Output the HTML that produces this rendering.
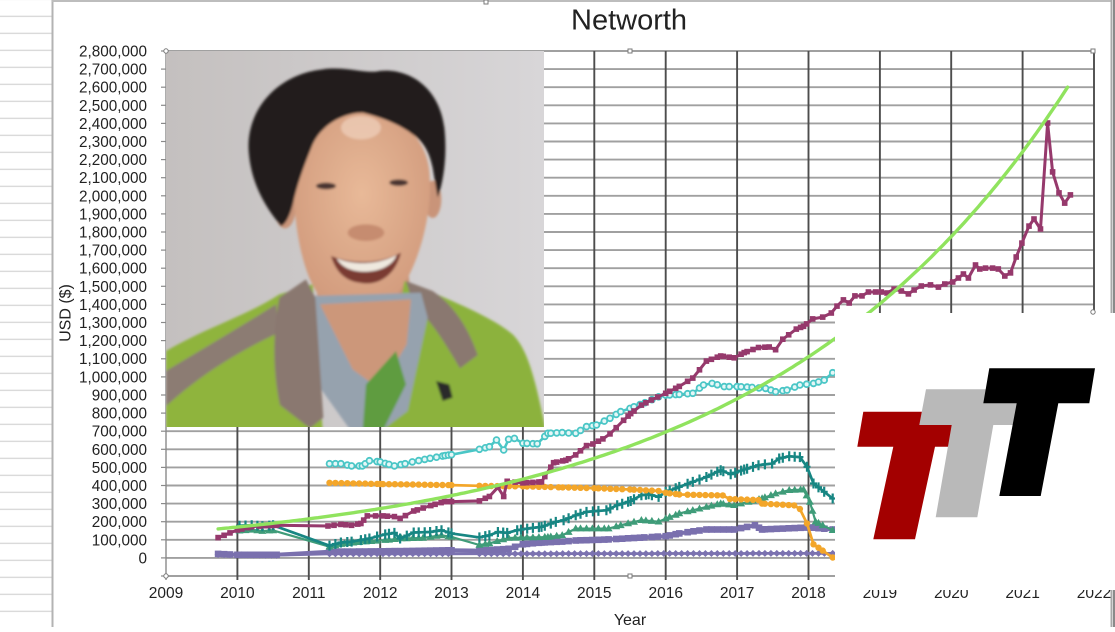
<!DOCTYPE html>
<html><head><meta charset="utf-8"><style>
html,body{margin:0;padding:0;background:#fff;}
body{width:1115px;height:627px;overflow:hidden;}
text{font-family:"Liberation Sans",Arial,sans-serif;fill:#222;}
</style></head><body>
<svg id="svg" xmlns="http://www.w3.org/2000/svg" width="1115" height="627" viewBox="0 0 1115 627">
<defs>
<clipPath id="pc"><rect x="166" y="51" width="378" height="376"/></clipPath>
<linearGradient id="bgp" x1="0" x2="1" y1="0" y2="0"><stop offset="0" stop-color="#c4c0bf"/><stop offset="1" stop-color="#d8d6d8"/></linearGradient>
<radialGradient id="skin" cx="0.5" cy="0.4" r="0.6"><stop offset="0" stop-color="#e8b998"/><stop offset="1" stop-color="#d19a7c"/></radialGradient>
<filter id="soft" x="-5%" y="-5%" width="110%" height="110%"><feGaussianBlur stdDeviation="4"/></filter>
<pattern id="rows" x="0" y="15.7" width="52" height="17" patternUnits="userSpaceOnUse"><rect x="0" y="0" width="52" height="1.2" fill="#d2d2d2"/></pattern>
</defs>
<rect width="1115" height="627" fill="#fff"/>
<rect x="0" y="0" width="52" height="627" fill="url(#rows)"/>
<line x1="52.5" y1="0" x2="52.5" y2="627" stroke="#b3b3b3" stroke-width="2"/>
<line x1="52" y1="1" x2="1112" y2="1" stroke="#bdbdbd" stroke-width="2"/>
<line x1="1111.5" y1="0" x2="1111.5" y2="627" stroke="#a8a8a8" stroke-width="2"/>
<rect x="1113" y="0" width="2" height="627" fill="#8a8a8a"/>

<g id="grid"></g>
<g id="series"></g>

<g font-size="15.5" text-anchor="middle">
<text x="166" y="598">2009</text>
<text x="237.4" y="598">2010</text>
<text x="308.8" y="598">2011</text>
<text x="380.2" y="598">2012</text>
<text x="451.5" y="598">2013</text>
<text x="522.9" y="598">2014</text>
<text x="594.3" y="598">2015</text>
<text x="665.7" y="598">2016</text>
<text x="737.1" y="598">2017</text>
<text x="808.5" y="598">2018</text>
<text x="879.9" y="598">2019</text>
<text x="951.2" y="598">2020</text>
<text x="1022.6" y="598">2021</text>
<text x="1094" y="598">2022</text>
</g>

<!-- photo -->
<g clip-path="url(#pc)">
<rect x="166" y="51" width="378" height="376" fill="url(#bgp)"/>
<g transform="translate(166,51) scale(0.33333)" filter="url(#soft)">
<ellipse cx="357" cy="470" rx="32" ry="62" fill="#c99479"/>
<ellipse cx="800" cy="445" rx="26" ry="56" fill="#c99479"/>
<path d="M450,640 L725,630 L745,890 L460,905 Z" fill="#c89277"/>
<path d="M385,330 C390,230 470,185 590,180 C700,185 780,260 790,360 C800,470 770,600 720,690 C680,760 630,800 580,800 C530,800 480,770 450,720 C400,640 375,470 385,330 Z" fill="url(#skin)"/>
<ellipse cx="585" cy="230" rx="60" ry="35" fill="#f0d2bd" opacity="0.7"/>
<ellipse cx="600" cy="545" rx="55" ry="25" fill="#c68c70"/>
<ellipse cx="480" cy="405" rx="30" ry="10" fill="#4a3530"/>
<ellipse cx="698" cy="395" rx="28" ry="10" fill="#4a3530"/>
<path d="M495,615 C560,640 640,640 705,605 C685,685 625,705 580,695 C540,690 510,665 495,615 Z" fill="#7a3a32"/>
<path d="M512,622 C570,645 640,640 692,612 C680,645 640,662 592,662 C550,660 525,646 512,622 Z" fill="#efe9df"/>
<path d="M248,300 C240,180 330,70 470,55 C540,45 600,70 640,60 C730,50 820,110 835,230 C845,320 830,400 815,440 L800,350 C790,300 770,270 740,250 C700,220 650,200 590,185 C540,185 470,215 440,280 C420,330 400,380 385,440 C375,490 360,520 345,525 C300,470 255,400 248,300 Z" fill="#241d1a"/>
<path d="M0,900 C120,830 250,790 340,730 L440,700 L470,1140 L0,1140 Z" fill="#8fb43e"/>
<path d="M715,690 L790,720 C880,760 980,800 1040,850 C1090,900 1110,1000 1140,1140 L640,1140 Z" fill="#8cb23c"/>
<path d="M0,960 C100,900 220,830 330,760 L338,845 C230,895 110,965 0,1065 Z" fill="#8c7b73"/>
<path d="M720,690 L800,720 C860,760 905,825 935,912 L882,952 C840,880 792,802 742,762 Z" fill="#8a7870"/>
<path d="M430,735 L765,725 L785,800 L725,1080 L645,1140 L555,1140 L455,1000 Z" fill="#96a2ae"/>
<path d="M462,760 L735,745 L722,880 L642,1015 L560,955 Z" fill="#cc977a"/>
<path d="M600,1000 L690,900 L720,1000 L650,1140 L590,1140 Z" fill="#5f9c40"/>
<path d="M340,740 L420,685 L448,740 L472,1100 L432,1132 L342,1062 C320,960 320,850 340,740 Z" fill="#8a7870"/>
<path d="M810,990 L850,1000 L860,1040 L830,1050 Z" fill="#2a2a2a"/>
</g>
</g>

<!-- logo box -->
<rect x="835" y="313" width="280" height="277" fill="#fff"/>
<polygon points="863.3,411.7 965,411.7 959,446.7 935,446.7 915,539.3 873.3,539.3 893.3,446.7 857.3,446.7" fill="#a30000"/>
<polygon points="926,389.3 1035,389.3 1029,425 993.3,425 977.3,517.3 935.7,517.3 951.7,425 919.3,425" fill="#b9b9b9"/>
<polygon points="989.3,368.3 1095,368.3 1089.3,403.3 1058.3,403.3 1040.7,496 999.3,496 1016.7,403.3 983.3,403.3" fill="#000"/>

<!-- y labels -->
<g font-size="15.3" text-anchor="end">
<text x="147" y="56.5">2,800,000</text>
<text x="147" y="74.6">2,700,000</text>
<text x="147" y="92.7">2,600,000</text>
<text x="147" y="110.8">2,500,000</text>
<text x="147" y="128.9">2,400,000</text>
<text x="147" y="147">2,300,000</text>
<text x="147" y="165.1">2,200,000</text>
<text x="147" y="183.2">2,100,000</text>
<text x="147" y="201.3">2,000,000</text>
<text x="147" y="219.4">1,900,000</text>
<text x="147" y="237.5">1,800,000</text>
<text x="147" y="255.6">1,700,000</text>
<text x="147" y="273.7">1,600,000</text>
<text x="147" y="291.8">1,500,000</text>
<text x="147" y="309.9">1,400,000</text>
<text x="147" y="328">1,300,000</text>
<text x="147" y="346.1">1,200,000</text>
<text x="147" y="364.2">1,100,000</text>
<text x="147" y="382.4">1,000,000</text>
<text x="147" y="400.5">900,000</text>
<text x="147" y="418.6">800,000</text>
<text x="147" y="436.7">700,000</text>
<text x="147" y="454.8">600,000</text>
<text x="147" y="472.9">500,000</text>
<text x="147" y="491">400,000</text>
<text x="147" y="509.1">300,000</text>
<text x="147" y="527.2">200,000</text>
<text x="147" y="545.3">100,000</text>
<text x="147" y="563.4">0</text>
</g>
<text x="571" y="29.5" font-size="29" fill="#111">Networth</text>
<text x="630" y="625" font-size="16" text-anchor="middle">Year</text>
<text transform="translate(70.5,313) rotate(-90)" font-size="16" text-anchor="middle">USD ($)</text>

<g fill="#fff" stroke="#7a7a7a" stroke-width="1">
<circle cx="166" cy="51" r="2.2"/>
<rect x="628" y="49" width="4" height="4"/>
<rect x="1091" y="49" width="4" height="4"/>
<circle cx="1093" cy="312" r="2.2"/>
<rect x="628" y="574" width="4" height="4"/>
<circle cx="166" cy="576" r="2.2"/>
<rect x="484" y="0" width="4" height="4"/>
</g>
</svg>
<script>
(function(){
var X=function(t){return 166+(t-2009)*71.385;};
var Y=function(v){return 51+(2.8-v)*181.03;};
var f=function(n){return n.toFixed(1);};
var gs='';
for(var k=0;k<=29;k++){var y=51+k*18.103;
 gs+='<line x1="166" y1="'+f(y)+'" x2="1094" y2="'+f(y)+'" stroke="#a0a0a0" stroke-width="1.9"/>';
 gs+='<line x1="161" y1="'+f(y)+'" x2="166" y2="'+f(y)+'" stroke="#8a8a8a" stroke-width="1.2"/>';}
for(var i=0;i<=13;i++){var x=166+i*71.385;
 gs+='<line x1="'+f(x)+'" y1="51" x2="'+f(x)+'" y2="580" stroke="'+(i==0?'#8a8a8a':'#4d4d4d')+'" stroke-width="'+(i==0?1.4:1.9)+'"/>';}
document.getElementById('grid').innerHTML=gs;

function interp(kp,t){for(var i=0;i<kp.length-1;i++){if(t>=kp[i][0]-1e-9&&t<=kp[i+1][0]+1e-9){var d=kp[i+1][0]-kp[i][0];var r=d>0?(t-kp[i][0])/d:0;return kp[i][1]+r*(kp[i+1][1]-kp[i][1]);}}return null;}
function build(kp,ranges){
 var pts=kp.map(function(p){return [p[0],p[1],1];});
 ranges.forEach(function(r){for(var t=r[0];t<=r[1]+1e-6;t+=1/12){
   var near=kp.some(function(p){return Math.abs(p[0]-t)<0.035;});
   if(!near){var v=interp(kp,t);if(v!==null)pts.push([t,v,0]);}}});
 pts.sort(function(a,b){return a[0]-b[0];});
 return pts;}
function pathOf(pts){return 'M'+pts.map(function(p){return f(X(p[0]))+','+f(Y(p[1]));}).join('L');}
var s='';
function series(kp,ranges,color,mk,lw){
 var pts=build(kp,ranges);
 s+='<path d="'+pathOf(pts)+'" fill="none" stroke="'+color+'" stroke-width="'+(lw||2.6)+'" stroke-linejoin="round"/>';
 pts.forEach(function(p){var x=X(p[0]),y=Y(p[1]);s+=mk(x,y,color);});}
var SQ=function(sz){return function(x,y,c){return '<rect x="'+f(x-sz/2)+'" y="'+f(y-sz/2)+'" width="'+sz+'" height="'+sz+'" fill="'+c+'"/>';};};
var CIRC=function(x,y,c){return '<circle cx="'+f(x)+'" cy="'+f(y)+'" r="3.2" fill="'+c+'"/>';};
var OCIRC=function(x,y,c){return '<circle cx="'+f(x)+'" cy="'+f(y)+'" r="2.9" fill="#e6f7f7" stroke="'+c+'" stroke-width="1.8"/>';};
var PLUS=function(x,y,c){return '<path d="M'+f(x-3.5)+','+f(y)+'h7M'+f(x)+','+f(y-5)+'v10" stroke="'+c+'" stroke-width="2.2"/>';};
var TRI=function(x,y,c){return '<polygon points="'+f(x)+','+f(y-4.2)+' '+f(x+4)+','+f(y+2.8)+' '+f(x-4)+','+f(y+2.8)+'" fill="'+c+'"/>';};
var DIA=function(x,y,c){return '<polygon points="'+f(x)+','+f(y-3.5)+' '+f(x+3.5)+','+f(y)+' '+f(x)+','+f(y+3.5)+' '+f(x-3.5)+','+f(y)+'" fill="'+c+'"/>';};

var R3=[[2009.73,2010.55],[2011.29,2013.0],[2013.39,2018.34]];
var RT=[[2010.03,2010.55],[2011.29,2013.0],[2013.39,2018.34]];
var R2=[[2011.29,2013.0],[2013.39,2018.34]];

series([[2009.73,0.018],[2010.55,0.015],[2011.29,0.022],[2018.34,0.025]],R3,'#7b72b0',DIA,2.8);
series([[2009.73,0.022],[2010.0,0.017],[2010.55,0.017],[2011.29,0.034],[2012.0,0.036],[2013.0,0.042],[2013.39,0.04],[2013.8,0.05],[2014.0,0.075],[2014.26,0.085],[2014.55,0.09],[2014.74,0.096],[2015.2,0.102],[2015.7,0.113],[2016.0,0.12],[2016.19,0.135],[2016.57,0.157],[2016.96,0.157],[2017.25,0.18],[2017.35,0.157],[2017.64,0.162],[2018.02,0.168],[2018.34,0.157]],R3,'#7a70ae',SQ(6.6),4);
series([[2010.03,0.15],[2010.2,0.155],[2010.35,0.148],[2010.5,0.152],[2011.29,0.062],[2011.5,0.08],[2011.8,0.09],[2012.07,0.098],[2012.3,0.107],[2012.6,0.11],[2012.86,0.125],[2013.0,0.116],[2013.39,0.071],[2013.53,0.08],[2013.8,0.11],[2014.35,0.115],[2014.55,0.125],[2014.74,0.162],[2015.2,0.162],[2015.37,0.18],[2015.66,0.208],[2015.9,0.2],[2016.0,0.217],[2016.19,0.245],[2016.38,0.263],[2016.57,0.281],[2016.77,0.3],[2016.96,0.291],[2017.16,0.309],[2017.35,0.328],[2017.54,0.355],[2017.73,0.374],[2017.93,0.377],[2018.02,0.309],[2018.1,0.2],[2018.2,0.18],[2018.34,0.153]],RT,'#3f9c79',TRI,2.2);
series([[2010.03,0.178],[2010.2,0.18],[2010.35,0.175],[2010.5,0.18],[2011.29,0.068],[2011.45,0.085],[2011.6,0.09],[2011.73,0.098],[2011.85,0.107],[2012.07,0.13],[2012.2,0.138],[2012.28,0.107],[2012.47,0.14],[2012.7,0.143],[2012.86,0.153],[2013.0,0.135],[2013.39,0.113],[2013.53,0.125],[2013.65,0.143],[2013.78,0.138],[2013.92,0.153],[2014.06,0.162],[2014.26,0.171],[2014.46,0.199],[2014.57,0.208],[2014.74,0.235],[2014.89,0.254],[2014.98,0.257],[2015.17,0.263],[2015.32,0.291],[2015.51,0.314],[2015.66,0.346],[2015.76,0.351],[2015.9,0.337],[2016.0,0.364],[2016.19,0.392],[2016.38,0.42],[2016.57,0.447],[2016.77,0.484],[2016.91,0.462],[2017.1,0.488],[2017.3,0.512],[2017.49,0.521],[2017.59,0.549],[2017.73,0.561],[2017.88,0.557],[2017.98,0.503],[2018.07,0.411],[2018.22,0.365],[2018.34,0.328]],RT,'#178683',PLUS,2.7);
series([[2011.29,0.415],[2012.0,0.408],[2013.0,0.402],[2013.39,0.398],[2014.0,0.395],[2014.5,0.39],[2015.0,0.385],[2015.5,0.378],[2015.9,0.37],[2016.0,0.36],[2016.19,0.35],[2016.8,0.345],[2016.9,0.325],[2017.3,0.32],[2017.35,0.3],[2017.8,0.29],[2017.88,0.27],[2017.98,0.19],[2018.07,0.075],[2018.2,0.04],[2018.34,0.002]],R2,'#f3a62a',CIRC,2.7);
series([[2011.29,0.52],[2011.45,0.52],[2011.6,0.508],[2011.75,0.508],[2011.85,0.537],[2012.0,0.53],[2012.07,0.522],[2012.2,0.508],[2012.35,0.52],[2012.45,0.53],[2012.7,0.55],[2012.91,0.565],[2013.0,0.57],[2013.39,0.6],[2013.53,0.614],[2013.63,0.651],[2013.73,0.596],[2013.8,0.655],[2013.88,0.66],[2014.0,0.633],[2014.2,0.63],[2014.35,0.688],[2014.55,0.692],[2014.74,0.688],[2014.89,0.725],[2015.03,0.734],[2015.22,0.771],[2015.37,0.808],[2015.5,0.826],[2015.71,0.857],[2015.9,0.89],[2016.0,0.899],[2016.19,0.903],[2016.38,0.909],[2016.53,0.955],[2016.65,0.964],[2016.82,0.946],[2017.0,0.946],[2017.21,0.942],[2017.4,0.936],[2017.54,0.918],[2017.7,0.927],[2017.88,0.955],[2018.07,0.964],[2018.22,0.982],[2018.34,1.023]],R2,'#4ac6c6',OCIRC,2.6);
series([[2009.73,0.112],[2010.0,0.154],[2010.2,0.172],[2010.4,0.178],[2010.55,0.18],[2011.27,0.176],[2011.45,0.185],[2011.6,0.18],[2011.73,0.19],[2011.82,0.232],[2012.04,0.232],[2012.2,0.228],[2012.28,0.218],[2012.47,0.259],[2012.71,0.289],[2012.9,0.311],[2013.0,0.311],[2013.39,0.315],[2013.53,0.339],[2013.65,0.39],[2013.73,0.339],[2013.78,0.423],[2014.0,0.414],[2014.26,0.42],[2014.43,0.526],[2014.6,0.539],[2014.74,0.569],[2014.89,0.62],[2014.98,0.629],[2015.12,0.657],[2015.22,0.685],[2015.41,0.76],[2015.51,0.797],[2015.66,0.844],[2015.8,0.872],[2016.0,0.909],[2016.19,0.947],[2016.38,0.993],[2016.57,1.087],[2016.77,1.115],[2016.96,1.105],[2017.1,1.134],[2017.3,1.162],[2017.45,1.165],[2017.54,1.15],[2017.64,1.208],[2017.83,1.264],[2017.93,1.279],[2018.06,1.32],[2018.2,1.33],[2018.32,1.353],[2018.4,1.391],[2018.49,1.425],[2018.57,1.408],[2018.65,1.447],[2018.75,1.447],[2018.84,1.469],[2018.94,1.469],[2019.02,1.469],[2019.1,1.463],[2019.2,1.485],[2019.3,1.474],[2019.4,1.458],[2019.48,1.48],[2019.58,1.502],[2019.71,1.508],[2019.82,1.496],[2019.91,1.513],[2020.02,1.524],[2020.1,1.546],[2020.17,1.568],[2020.24,1.546],[2020.34,1.618],[2020.4,1.596],[2020.48,1.601],[2020.58,1.601],[2020.66,1.596],[2020.75,1.557],[2020.83,1.574],[2020.91,1.662],[2020.99,1.739],[2021.09,1.833],[2021.16,1.872],[2021.25,1.817],[2021.35,2.402],[2021.42,2.132],[2021.51,2.016],[2021.59,1.96],[2021.67,2.005]],[[2009.73,2010.55],[2011.27,2013.0],[2013.39,2018.0]],'#96396c',SQ(5.6),3);
var gp=[];for(var t=2009.73;t<=2021.675;t+=0.05){gp.push([t,0.16*Math.exp(0.2343*(t-2009.73))]);}
s+='<path d="'+pathOf(gp)+'" fill="none" stroke="#90e35e" stroke-width="3.4" stroke-linecap="round"/>';
document.getElementById('series').innerHTML=s;
})();
</script>
</body></html>
